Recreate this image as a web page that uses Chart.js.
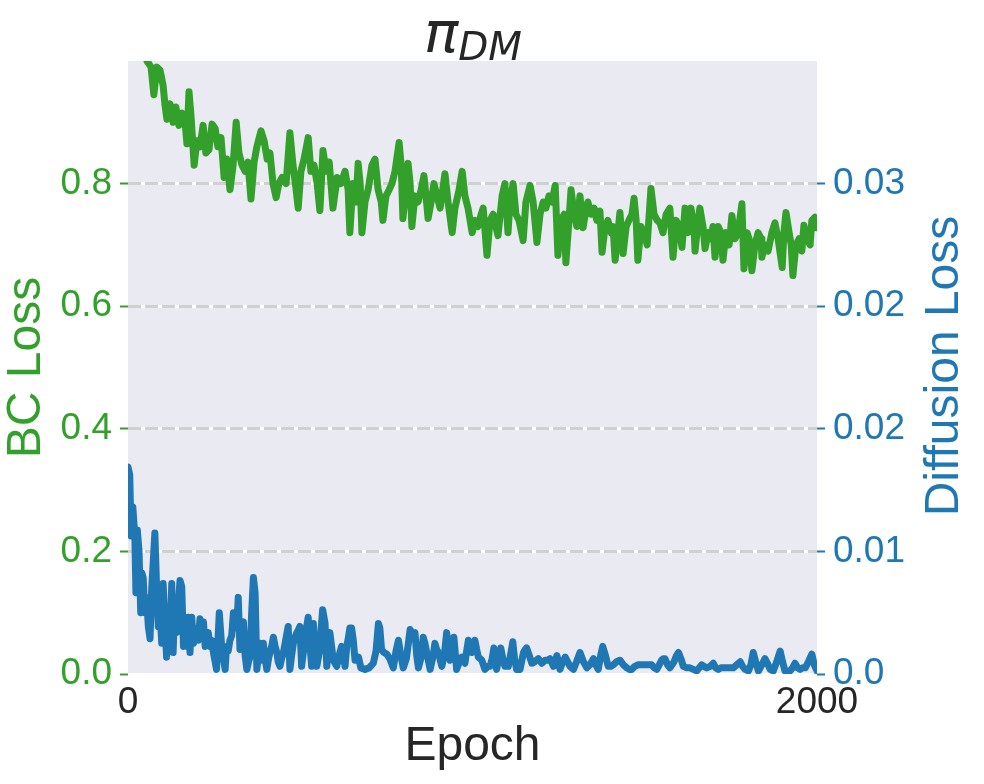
<!DOCTYPE html>
<html lang="en">
<head>
    <meta charset="UTF-8">
    <title>pi_DM losses</title>
    <script src="https://cdn.jsdelivr.net/npm/chart.js@4.4.0/dist/chart.umd.min.js"></script>
    <style>
        body { margin: 0; background: #ffffff; }
        #wrap { width: 984px; height: 784px; }
    </style>
</head>
<body>
<div id="wrap"><canvas id="lossChart" width="984" height="784"></canvas></div>

<script type="text/javascript">

    // BC loss (left axis)
    var bcEpochs = [
        0, 20, 41, 55, 67, 75, 84, 93, 102, 107,
        113, 122, 131, 139, 148, 157, 165, 171, 177, 183,
        192, 200, 209, 218, 226, 235, 244, 253, 261, 270,
        279, 287, 296, 305, 314, 322, 331, 340, 348, 357,
        366, 374, 386, 395, 404, 412, 421, 430, 438, 447,
        459, 470, 479, 488, 494, 502, 511, 523, 531, 540,
        549, 557, 566, 575, 584, 595, 607, 618, 630, 639,
        644, 653, 662, 668, 674, 679, 688, 697, 708, 717,
        726, 735, 740, 749, 758, 766, 775, 787, 793, 798,
        807, 813, 819, 824, 833, 842, 851, 859, 865, 871,
        880, 888, 897, 906, 920, 929, 941, 949, 961, 970,
        978, 987, 999, 1007, 1016, 1025, 1031, 1042, 1051, 1060,
        1068, 1074, 1086, 1094, 1103, 1109, 1118, 1126, 1135, 1147,
        1155, 1167, 1176, 1187, 1196, 1205, 1213, 1222, 1231, 1240,
        1248, 1257, 1266, 1271, 1280, 1286, 1295, 1303, 1312, 1321,
        1330, 1335, 1344, 1353, 1361, 1370, 1376, 1385, 1393, 1402,
        1408, 1414, 1422, 1428, 1437, 1446, 1454, 1463, 1469, 1475,
        1480, 1489, 1498, 1507, 1518, 1527, 1536, 1544, 1553, 1562,
        1573, 1582, 1591, 1600, 1608, 1617, 1626, 1634, 1643, 1646,
        1655, 1660, 1669, 1675, 1684, 1692, 1698, 1704, 1713, 1721,
        1727, 1736, 1745, 1753, 1762, 1771, 1782, 1788, 1797, 1803,
        1811, 1820, 1829, 1838, 1840, 1849, 1858, 1869, 1878, 1887,
        1899, 1904, 1910, 1919, 1925, 1930, 1939, 1948, 1956, 1962,
        1971, 1980, 1985, 1994, 2000
    ];
    var bcLoss = [
        1.15, 1.10, 1.04, 1.00, 0.99, 0.945, 0.99, 0.985, 0.96, 0.93,
        0.905, 0.93, 0.90, 0.925, 0.895, 0.915, 0.905, 0.865, 0.95, 0.91,
        0.83, 0.87, 0.86, 0.895, 0.85, 0.855, 0.897, 0.89, 0.86, 0.875,
        0.81, 0.84, 0.79, 0.83, 0.90, 0.85, 0.83, 0.82, 0.835, 0.775,
        0.835, 0.86, 0.886, 0.87, 0.84, 0.85, 0.80, 0.777, 0.80, 0.81,
        0.80, 0.883, 0.83, 0.79, 0.76, 0.82, 0.84, 0.875, 0.82, 0.83,
        0.80, 0.756, 0.854, 0.82, 0.835, 0.76, 0.81, 0.80, 0.82, 0.79,
        0.72, 0.80, 0.77, 0.833, 0.80, 0.72, 0.77, 0.79, 0.83, 0.84,
        0.79, 0.77, 0.74, 0.78, 0.79, 0.80, 0.82, 0.867, 0.83, 0.743,
        0.79, 0.833, 0.80, 0.73, 0.78, 0.77, 0.79, 0.813, 0.78, 0.743,
        0.77, 0.80, 0.78, 0.76, 0.816, 0.77, 0.72, 0.76, 0.79, 0.82,
        0.78, 0.76, 0.72, 0.74, 0.73, 0.75, 0.76, 0.683, 0.74, 0.75,
        0.73, 0.715, 0.78, 0.80, 0.72, 0.77, 0.80, 0.75, 0.74, 0.707,
        0.77, 0.797, 0.77, 0.704, 0.75, 0.77, 0.76, 0.78, 0.77, 0.797,
        0.683, 0.74, 0.75, 0.671, 0.74, 0.79, 0.75, 0.73, 0.78, 0.728,
        0.76, 0.77, 0.75, 0.76, 0.74, 0.755, 0.688, 0.73, 0.74, 0.72,
        0.73, 0.675, 0.72, 0.753, 0.686, 0.73, 0.74, 0.75, 0.776, 0.74,
        0.675, 0.73, 0.72, 0.70, 0.792, 0.75, 0.74, 0.736, 0.72, 0.75,
        0.76, 0.68, 0.74, 0.73, 0.696, 0.76, 0.72, 0.76, 0.73, 0.69,
        0.74, 0.76, 0.73, 0.694, 0.72, 0.71, 0.73, 0.68, 0.73, 0.72,
        0.675, 0.72, 0.70, 0.748, 0.71, 0.72, 0.767, 0.661, 0.72, 0.71,
        0.658, 0.70, 0.72, 0.71, 0.68, 0.70, 0.69, 0.72, 0.736, 0.71,
        0.663, 0.72, 0.753, 0.72, 0.70, 0.65, 0.70, 0.71, 0.69, 0.732,
        0.71, 0.70, 0.74, 0.745, 0.728
    ];

    // Diffusion loss (right axis)
    var diffEpochs = [
        0, 5, 9, 14, 20, 23, 27, 32, 37, 40,
        44, 49, 54, 59, 64, 69, 73, 78, 83, 88,
        93, 98, 102, 107, 112, 117, 122, 127, 131, 136,
        141, 146, 151, 156, 161, 165, 170, 175, 180, 185,
        190, 195, 199, 204, 209, 214, 219, 224, 229, 233,
        238, 243, 248, 253, 257, 265, 272, 277, 282, 286,
        291, 296, 301, 306, 311, 316, 320, 325, 330, 335,
        340, 345, 350, 354, 359, 364, 369, 374, 379, 383,
        388, 393, 398, 403, 408, 412, 417, 422, 427, 432,
        436, 441, 446, 451, 456, 460, 465, 470, 475, 480,
        485, 490, 495, 499, 504, 509, 514, 518, 523, 528,
        533, 538, 543, 548, 552, 557, 561, 565, 572, 577,
        582, 586, 591, 596, 601, 606, 611, 615, 620, 625,
        630, 635, 640, 644, 649, 654, 659, 664, 669, 676,
        688, 700, 712, 720, 727, 731, 736, 743, 751, 760,
        770, 778, 785, 792, 799, 808, 819, 826, 833, 838,
        843, 850, 857, 862, 867, 877, 884, 891, 896, 901,
        911, 918, 925, 930, 935, 940, 946, 954, 962, 969,
        978, 983, 988, 993, 998, 1003, 1007, 1012, 1017, 1027,
        1036, 1044, 1051, 1057, 1062, 1066, 1070, 1076, 1082, 1088,
        1094, 1104, 1110, 1117, 1122, 1128, 1138, 1148, 1153, 1157,
        1165, 1172, 1181, 1186, 1191, 1201, 1211, 1218, 1225, 1235,
        1245, 1254, 1262, 1269, 1276, 1283, 1293, 1302, 1312, 1322,
        1332, 1341, 1351, 1358, 1365, 1372, 1378, 1386, 1394, 1401,
        1409, 1418, 1428, 1438, 1448, 1455, 1462, 1471, 1481, 1491,
        1501, 1510, 1520, 1528, 1535, 1542, 1549, 1554, 1559, 1566,
        1573, 1585, 1592, 1598, 1605, 1612, 1622, 1631, 1641, 1651,
        1658, 1665, 1672, 1680, 1690, 1699, 1706, 1714, 1721, 1728,
        1736, 1743, 1750, 1757, 1767, 1777, 1784, 1791, 1801, 1808,
        1815, 1822, 1830, 1840, 1849, 1856, 1864, 1873, 1883, 1893,
        1900, 1907, 1915, 1922, 1929, 1936, 1944, 1951, 1958, 1966,
        1975, 1985, 1992, 2000
    ];
    var diffLoss = [
        0.0135, 0.0130, 0.0090, 0.0109, 0.0089, 0.0053, 0.0094, 0.0080, 0.0040, 0.0066,
        0.0063, 0.0040, 0.0050, 0.0031, 0.0023, 0.0057, 0.0072, 0.0092, 0.0057, 0.0031,
        0.0040, 0.0020, 0.0059, 0.0035, 0.0011, 0.0040, 0.0022, 0.0059, 0.0014, 0.0048,
        0.0027, 0.0045, 0.0061, 0.0057, 0.0018, 0.0037, 0.0018, 0.0037, 0.0014, 0.0037,
        0.0020, 0.0030, 0.0027, 0.0022, 0.0036, 0.0030, 0.0034, 0.0018, 0.0024, 0.0027,
        0.0018, 0.0022, 0.0014, 0.0008, 0.0003, 0.0040, 0.0018, 0.0010, 0.0003, 0.0018,
        0.0015, 0.0022, 0.0025, 0.0040, 0.0030, 0.0031, 0.0050, 0.0016, 0.0025, 0.0034,
        0.0012, 0.0003, 0.0008, 0.0011, 0.0040, 0.0063, 0.0053, 0.0003, 0.0012, 0.0020,
        0.0009, 0.0020, 0.0010, 0.0003, 0.0010, 0.0014, 0.0018, 0.0024, 0.0018, 0.0014,
        0.0008, 0.0005, 0.0010, 0.0014, 0.0020, 0.0025, 0.0031, 0.0003, 0.0012, 0.0020,
        0.0024, 0.0027, 0.0029, 0.0031, 0.0005, 0.0014, 0.0022, 0.0030, 0.0037, 0.0020,
        0.0005, 0.0033, 0.0018, 0.0005, 0.0010, 0.0016, 0.0030, 0.0042, 0.0033, 0.0005,
        0.0015, 0.0027, 0.0018, 0.0009, 0.0007, 0.0005, 0.0010, 0.0014, 0.0018, 0.0012,
        0.0005, 0.0018, 0.0024, 0.0030, 0.0030, 0.0022, 0.0009, 0.0009, 0.0011, 0.0004,
        0.0003, 0.0004, 0.0007, 0.0015, 0.0033, 0.0030, 0.0016, 0.0014, 0.0013, 0.0010,
        0.0004, 0.0015, 0.0022, 0.0012, 0.0004, 0.0010, 0.0029, 0.0026, 0.0027, 0.0012,
        0.0004, 0.0010, 0.0024, 0.0020, 0.0014, 0.0003, 0.0010, 0.0020, 0.0016, 0.0014,
        0.0005, 0.0012, 0.0027, 0.0018, 0.0009, 0.0012, 0.0024, 0.0003, 0.0008, 0.0011,
        0.0007, 0.0015, 0.0022, 0.0018, 0.0014, 0.0016, 0.0022, 0.0016, 0.0011, 0.0009,
        0.0003, 0.0005, 0.0005, 0.0010, 0.0017, 0.0010, 0.0003, 0.0010, 0.0017, 0.0010,
        0.0005, 0.0005, 0.0012, 0.0021, 0.0010, 0.0003, 0.0003, 0.0014, 0.0016, 0.0017,
        0.0012, 0.0007, 0.0008, 0.0009, 0.0010, 0.0007, 0.0009, 0.0009, 0.0010, 0.0005,
        0.0012, 0.0003, 0.0008, 0.0011, 0.0008, 0.0005, 0.0003, 0.0008, 0.0014, 0.0008,
        0.0004, 0.0006, 0.0010, 0.0006, 0.0003, 0.0012, 0.0018, 0.0012, 0.0005, 0.0005,
        0.0006, 0.0008, 0.0009, 0.0006, 0.0004, 0.0003, 0.0003, 0.0005, 0.0006, 0.0006,
        0.0006, 0.0006, 0.0006, 0.0004, 0.0003, 0.0006, 0.0009, 0.0010, 0.0010, 0.0006,
        0.0004, 0.0008, 0.0012, 0.0014, 0.0010, 0.0005, 0.0004, 0.0004, 0.0003, 0.0002,
        0.0004, 0.0006, 0.0005, 0.0004, 0.0005, 0.0007, 0.0004, 0.0003, 0.0004, 0.0004,
        0.0004, 0.0004, 0.0004, 0.0004, 0.0006, 0.0008, 0.0005, 0.0003, 0.0002, 0.0006,
        0.0014, 0.0008, 0.0002, 0.0006, 0.0010, 0.0007, 0.0003, 0.0002, 0.0008, 0.0015,
        0.0008, 0.0002, 0.0002, 0.0002, 0.0004, 0.0007, 0.0004, 0.0003, 0.0004, 0.0004,
        0.0008, 0.0013, 0.0006, 0.0002
    ];

    // ticks as they appear on the picture
    var epochTicks = [0, 2000];
    var epochTickLabels = ["0", "2000"];
    var bcTicks = [0, 0.2, 0.4, 0.6, 0.8];
    var bcTickLabels = ["0.0", "0.2", "0.4", "0.6", "0.8"];
    var diffTicks = [0, 0.008, 0.016, 0.024, 0.032];
    var diffTickLabels = ["0.0", "0.01", "0.02", "0.02", "0.03"];

    var green = "#33a02c";
    var blue = "#1f78b4";
    var ink = "#262626";
    var sans = "'Liberation Sans', Arial, sans-serif";

    function toPoints(xs, ys) {
        var pts = [];
        for (var i = 0; i < xs.length; i++) {
            pts.push({x: xs[i], y: ys[i]});
        }
        return pts;
    }

    var decor = {
        id: "decor",
        beforeDraw: function (chart) {
            var a = chart.chartArea;
            var ctx = chart.ctx;
            ctx.save();
            ctx.fillStyle = "#eaeaf2";
            ctx.fillRect(a.left, a.top, a.right - a.left, a.bottom - a.top);
            ctx.restore();
        },
        afterDraw: function (chart) {
            var ctx = chart.ctx;
            ctx.save();
            // title: pi with subscript DM
            ctx.fillStyle = ink;
            ctx.textAlign = "left";
            ctx.textBaseline = "alphabetic";
            ctx.font = "italic 57px 'DejaVu Sans'";
            var w1 = ctx.measureText("π").width;
            ctx.font = "italic 39px 'DejaVu Sans'";
            var w2 = ctx.measureText("DM").width;
            var x0 = 473 - (w1 + w2) / 2;
            ctx.font = "italic 57px 'DejaVu Sans'";
            ctx.fillText("π", x0, 52);
            ctx.font = "italic 39px 'DejaVu Sans'";
            ctx.fillText("DM", x0 + w1, 60);

            // right axis title, reads bottom to top
            ctx.translate(945, 366);
            ctx.rotate(-Math.PI / 2);
            ctx.textAlign = "center";
            ctx.textBaseline = "middle";
            ctx.fillStyle = blue;
            ctx.font = "48px " + sans;
            ctx.fillText("Diffusion Loss", 0, 0);
            ctx.restore();
        }
    };

    var ctx = document.getElementById("lossChart");

    new Chart(ctx, {
        "type": "line",
        "data": {
            "datasets": [{
                "label": "BC Loss",
                "data": toPoints(bcEpochs, bcLoss),
                "yAxisID": "y",
                "borderColor": green,
                "borderWidth": 7,
                "pointRadius": 0,
                "tension": 0,
                "fill": false,
                "clip": 0,
                "borderJoinStyle": "round",
                "borderCapStyle": "round"
            }, {
                "label": "Diffusion Loss",
                "data": toPoints(diffEpochs, diffLoss),
                "yAxisID": "y1",
                "borderColor": blue,
                "borderWidth": 7,
                "pointRadius": 0,
                "tension": 0,
                "fill": false,
                "clip": 0,
                "borderJoinStyle": "round",
                "borderCapStyle": "round"
            }]
        },
        "options": {
            "responsive": false,
            "animation": false,
            "devicePixelRatio": 1,
            "layout": {"padding": {"top": 61, "left": 0, "right": 0, "bottom": 0}},
            "plugins": {
                "legend": {"display": false},
                "tooltip": {"enabled": false}
            },
            "scales": {
                "x": {
                    "type": "linear",
                    "min": 0,
                    "max": 2000,
                    "afterBuildTicks": function (scale) {
                        scale.ticks = epochTicks.map(function (v) { return {value: v}; });
                    },
                    "afterFit": function (scale) { scale.height = 110; },
                    "ticks": {
                        "autoSkip": false,
                        "maxRotation": 0,
                        "padding": 7,
                        "color": ink,
                        "font": {"family": sans, "size": 37},
                        "callback": function (value, index) { return epochTickLabels[index]; }
                    },
                    "grid": {"display": false, "drawTicks": false},
                    "border": {"display": false},
                    "title": {
                        "display": true,
                        "text": "Epoch",
                        "color": ink,
                        "font": {"family": sans, "size": 48, "lineHeight": 1},
                        "padding": {"top": 0, "bottom": 13}
                    }
                },
                "y": {
                    "position": "left",
                    "min": 0,
                    "max": 1.0,
                    "afterBuildTicks": function (scale) {
                        scale.ticks = bcTicks.map(function (v) { return {value: v}; });
                    },
                    "afterFit": function (scale) { scale.width = 128; },
                    "ticks": {
                        "padding": 8,
                        "color": green,
                        "font": {"family": sans, "size": 37},
                        "callback": function (value, index) { return bcTickLabels[index]; }
                    },
                    "grid": {
                        "color": function (c) {
                            return (c.tick && c.tick.value === 0) ? "rgba(0,0,0,0)" : "#d0d0d0";
                        },
                        "lineWidth": 3,
                        "tickColor": green,
                        "tickLength": 8,
                        "tickWidth": 2,
                        "z": -1
                    },
                    "border": {"display": false, "dash": [13, 4]},
                    "title": {
                        "display": true,
                        "text": "BC Loss",
                        "color": green,
                        "font": {"family": sans, "size": 48, "lineHeight": 1},
                        "padding": {"top": 3, "bottom": 0}
                    }
                },
                "y1": {
                    "position": "right",
                    "min": 0,
                    "max": 0.04,
                    "afterBuildTicks": function (scale) {
                        scale.ticks = diffTicks.map(function (v) { return {value: v}; });
                    },
                    "afterFit": function (scale) { scale.width = 167; },
                    "ticks": {
                        "padding": 8,
                        "color": blue,
                        "font": {"family": sans, "size": 37},
                        "callback": function (value, index) { return diffTickLabels[index]; }
                    },
                    "grid": {
                        "color": "#ffffff",
                        "lineWidth": 3,
                        "tickColor": blue,
                        "tickLength": 8,
                        "tickWidth": 2,
                        "z": -2
                    },
                    "border": {"display": false}
                }
            }
        },
        "plugins": [decor]
    });
</script>

</body>
</html>
